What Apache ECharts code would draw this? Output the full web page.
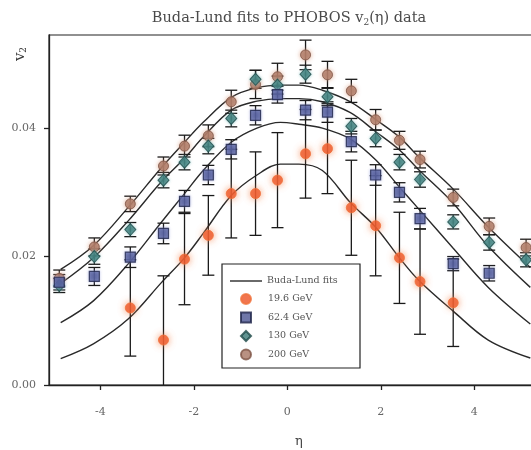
<!DOCTYPE html>
<html>
<head>
<meta charset="utf-8">
<script src="https://cdn.jsdelivr.net/npm/echarts@6/dist/echarts.min.js"></script>
<style>
html,body{margin:0;padding:0;background:#fff;}
#c{width:531px;height:450px;}
</style>
</head>
<body>
<div id="c"></div>
<script>
// ---- data ----
const fitName = 'Buda-Lund fits';
const pointNames = ['19.6 GeV', '62.4 GeV', '130 GeV', '200 GeV'];

const eta196 = [-3.36, -2.65, -2.20, -1.69, -1.20, -0.68, -0.21, 0.39, 0.86, 1.37, 1.89, 2.40, 2.84, 3.55];
const v196   = [0.0120, 0.0070, 0.0196, 0.0233, 0.0298, 0.0298, 0.0319, 0.0360, 0.0368, 0.0276, 0.0248, 0.0198, 0.0161, 0.0128];
const err196 = [0.0075, 0.0100, 0.0071, 0.0062, 0.0069, 0.0065, 0.0074, 0.0069, 0.0070, 0.0074, 0.0078, 0.0071, 0.0082, 0.0068];

const eta624 = [-4.88, -4.13, -3.36, -2.65, -2.20, -1.69, -1.20, -0.68, -0.21, 0.39, 0.86, 1.37, 1.89, 2.40, 2.84, 3.55, 4.32];
const v624   = [0.0160, 0.0169, 0.0199, 0.0236, 0.0286, 0.0327, 0.0367, 0.0420, 0.0452, 0.0428, 0.0425, 0.0379, 0.0327, 0.0300, 0.0259, 0.0189, 0.0174];
const err624 = [0.0012, 0.0014, 0.0016, 0.0016, 0.0017, 0.0015, 0.0015, 0.0015, 0.0013, 0.0015, 0.0016, 0.0016, 0.0016, 0.0015, 0.0016, 0.0011, 0.0012];

const eta130 = [-4.88, -4.13, -3.36, -2.65, -2.20, -1.69, -1.20, -0.68, -0.21, 0.39, 0.86, 1.37, 1.89, 2.40, 2.84, 3.55, 4.32, 5.11];
const v130   = [0.0155, 0.0200, 0.0242, 0.0319, 0.0347, 0.0372, 0.0415, 0.0476, 0.0467, 0.0484, 0.0449, 0.0403, 0.0384, 0.0347, 0.0320, 0.0254, 0.0222, 0.0195];
const err130 = [0.0011, 0.0012, 0.0011, 0.0012, 0.0012, 0.0012, 0.0013, 0.0014, 0.0014, 0.0014, 0.0014, 0.0012, 0.0013, 0.0012, 0.0012, 0.0011, 0.0012, 0.0011];

const eta200 = [-4.88, -4.13, -3.36, -2.65, -2.20, -1.69, -1.20, -0.68, -0.21, 0.39, 0.86, 1.37, 1.89, 2.40, 2.84, 3.55, 4.32, 5.11];
const v200   = [0.0166, 0.0215, 0.0282, 0.0341, 0.0372, 0.0388, 0.0441, 0.0468, 0.0480, 0.0514, 0.0483, 0.0458, 0.0413, 0.0381, 0.0351, 0.0292, 0.0247, 0.0214];
const err200 = [0.0013, 0.0014, 0.0012, 0.0014, 0.0017, 0.0017, 0.0018, 0.0022, 0.0021, 0.0023, 0.0021, 0.0018, 0.0016, 0.0014, 0.0013, 0.0013, 0.0013, 0.0013];

// Buda-Lund fit curves at these eta values
const etaFit = [-4.85, -4.15, -3.4, -2.7, -2.2, -1.8, -1.2, -0.65, -0.15, 0.25, 0.75, 1.35, 1.9, 2.4, 2.8, 3.55, 4.3, 5.2];
const fit200 = [0.0180, 0.0217, 0.0277, 0.0338, 0.0378, 0.0409, 0.0448, 0.0463, 0.0467, 0.0467, 0.0459, 0.0441, 0.0413, 0.0386, 0.0356, 0.0305, 0.0246, 0.0183];
const fit130 = [0.0158, 0.0198, 0.0256, 0.0316, 0.0353, 0.0386, 0.0428, 0.0442, 0.0446, 0.0446, 0.0441, 0.0424, 0.0394, 0.0366, 0.0336, 0.0283, 0.0216, 0.0152];
const fit624 = [0.0097, 0.0131, 0.0189, 0.0253, 0.0298, 0.0334, 0.0378, 0.0400, 0.0409, 0.0406, 0.0400, 0.0383, 0.0350, 0.0308, 0.0275, 0.0213, 0.0152, 0.0095];
const fit196 = [0.0041, 0.0064, 0.0103, 0.0159, 0.0198, 0.0236, 0.0295, 0.0327, 0.0344, 0.0344, 0.0334, 0.0284, 0.0245, 0.0198, 0.0164, 0.0115, 0.0070, 0.0042];

const xTicks = [-4, -2, 0, 2, 4];
const yTicks = [0.00, 0.02, 0.04];

// ---- helpers ----
const zip = (xs, ys) => xs.map((x, i) => [x, ys[i]]);
const errData = (xs, ys, es) => xs.map((x, i) => [x, ys[i] - es[i], ys[i] + es[i]]);
const SERIF = '"DejaVu Serif", "Liberation Serif", serif';

function errRender(params, api) {
  const x = api.value(0);
  const lo = api.coord([x, api.value(1)]);
  const hi = api.coord([x, api.value(2)]);
  const cap = 6;
  const st = { stroke: '#1a1a1a', lineWidth: 1.3 };
  return {
    type: 'group',
    children: [
      { type: 'line', shape: { x1: lo[0], y1: lo[1], x2: hi[0], y2: hi[1] }, style: st },
      { type: 'line', shape: { x1: lo[0] - cap, y1: lo[1], x2: lo[0] + cap, y2: lo[1] }, style: st },
      { type: 'line', shape: { x1: hi[0] - cap, y1: hi[1], x2: hi[0] + cap, y2: hi[1] }, style: st }
    ]
  };
}

function errSeries(xs, ys, es) {
  return {
    type: 'custom', renderItem: errRender, clip: true, z: 3, silent: true,
    encode: { x: 0, y: [1, 2] },
    data: errData(xs, ys, es)
  };
}

function fitSeries(ys) {
  return {
    name: fitName, type: 'line', data: zip(etaFit, ys),
    smooth: 0.35, symbol: 'none', clip: true, z: 2,
    lineStyle: { color: '#2a2a2a', width: 1.4 },
    itemStyle: { color: '#2a2a2a' }
  };
}

const chart = echarts.init(document.getElementById('c'), null, { renderer: 'canvas' });

const legendText = { fontFamily: SERIF, fontSize: 9.5, color: '#555' };

const option = {
  animation: false,
  backgroundColor: '#ffffff',
  title: {
    text: 'Buda-Lund fits to PHOBOS v{sub|2}(η) data',
    left: 284, top: 5, textAlign: 'center',
    textStyle: {
      fontFamily: SERIF, fontSize: 14.5, fontWeight: 'normal', color: '#4a4a4a',
      rich: { sub: { fontFamily: SERIF, fontSize: 9, color: '#4a4a4a', padding: [8, 0, 0, 0] } }
    }
  },
  graphic: [
    {
      type: 'text', x: 20, y: 54, rotation: Math.PI / 2,
      style: {
        text: 'v{s|2}', fontFamily: SERIF, fontSize: 15, fill: '#3a3a3a',
        align: 'center', verticalAlign: 'middle',
        rich: { s: { fontFamily: SERIF, fontSize: 9, fill: '#3a3a3a', padding: [8, 0, 0, 0] } }
      }
    },
    {
      type: 'rect', z: 10, silent: true,
      shape: { x: 222, y: 264, width: 138, height: 104 },
      style: { fill: '#ffffff', stroke: '#222', lineWidth: 1.2 }
    }
  ],
  legend: [
    {
      z: 11, orient: 'vertical', left: 230, top: 276,
      data: [{ name: fitName, icon: 'path://M0,0 L32,0 L32,1.4 L0,1.4 Z' }],
      itemWidth: 32, itemHeight: 10, padding: 0,
      textStyle: legendText, selectedMode: false
    },
    {
      z: 11, orient: 'vertical', left: 240, top: 293,
      data: [
        { name: pointNames[0], icon: 'circle' },
        { name: pointNames[1], icon: 'rect' },
        { name: pointNames[2], icon: 'diamond' },
        { name: pointNames[3], icon: 'circle' }
      ],
      itemWidth: 10, itemHeight: 10, itemGap: 6.5, padding: 0,
      textStyle: Object.assign({}, legendText, { padding: [0, 0, 0, 12] }),
      selectedMode: false
    }
  ],
  grid: {
    left: 49, top: 35, width: 500, height: 350,
    outerBoundsMode: 'none', containLabel: false,
    show: true, borderColor: '#222', borderWidth: 1.2, backgroundColor: 'transparent'
  },
  xAxis: {
    type: 'value', min: -5.1, max: 5.6, splitNumber: 5,
    name: 'η', nameLocation: 'middle', nameGap: 50,
    nameTextStyle: { fontFamily: SERIF, fontSize: 13, color: '#444' },
    axisLine: { show: true, onZero: false, lineStyle: { color: '#222', width: 1.3 } },
    axisTick: { show: true, inside: false, length: 5, lineStyle: { color: '#222', width: 1.3 } },
    axisLabel: {
      fontFamily: SERIF, fontSize: 11, color: '#666', margin: 22,
      showMinLabel: false, showMaxLabel: false,
      formatter: v => (xTicks.indexOf(Math.round(v * 1000) / 1000) >= 0 ? String(v) : '')
    },
    splitLine: { show: false }
  },
  yAxis: {
    type: 'value', min: 0, max: 0.0545, interval: 0.02,
    axisLine: { show: true, onZero: false, lineStyle: { color: '#222', width: 1.3 } },
    axisTick: { show: true, inside: false, length: 5, lineStyle: { color: '#222', width: 1.3 } },
    axisLabel: {
      fontFamily: SERIF, fontSize: 11, color: '#666', margin: 13,
      showMaxLabel: false,
      formatter: v => (yTicks.some(t => Math.abs(t - v) < 1e-9) ? v.toFixed(2) : '')
    },
    splitLine: { show: false }
  },
  series: [
    fitSeries(fit200), fitSeries(fit130), fitSeries(fit624), fitSeries(fit196),
    errSeries(eta200, v200, err200),
    errSeries(eta130, v130, err130),
    errSeries(eta624, v624, err624),
    errSeries(eta196, v196, err196),
    {
      name: pointNames[3], type: 'scatter', data: zip(eta200, v200), z: 5,
      symbol: 'circle', symbolSize: 10,
      itemStyle: { color: '#a87563', borderColor: '#7d5243', borderWidth: 1, shadowBlur: 4, shadowColor: 'rgba(220,160,130,0.9)' }
    },
    {
      name: pointNames[2], type: 'scatter', data: zip(eta130, v130), z: 6,
      symbol: 'diamond', symbolSize: [11, 12],
      itemStyle: { color: '#3a7876', borderColor: '#1f4a48', borderWidth: 1, shadowBlur: 3, shadowColor: 'rgba(120,190,190,0.8)' }
    },
    {
      name: pointNames[1], type: 'scatter', data: zip(eta624, v624), z: 6,
      symbol: 'rect', symbolSize: 10,
      itemStyle: { color: '#4b5593', borderColor: '#1e2448', borderWidth: 1.2, shadowBlur: 3, shadowColor: 'rgba(150,160,220,0.8)' }
    },
    {
      name: pointNames[0], type: 'scatter', data: zip(eta196, v196), z: 7,
      symbol: 'circle', symbolSize: 10,
      itemStyle: { color: '#ee5324', borderColor: '#f0703a', borderWidth: 1, shadowBlur: 7, shadowColor: 'rgba(245,140,90,1)' }
    }
  ]
};

chart.setOption(option);
</script>
</body>
</html>
